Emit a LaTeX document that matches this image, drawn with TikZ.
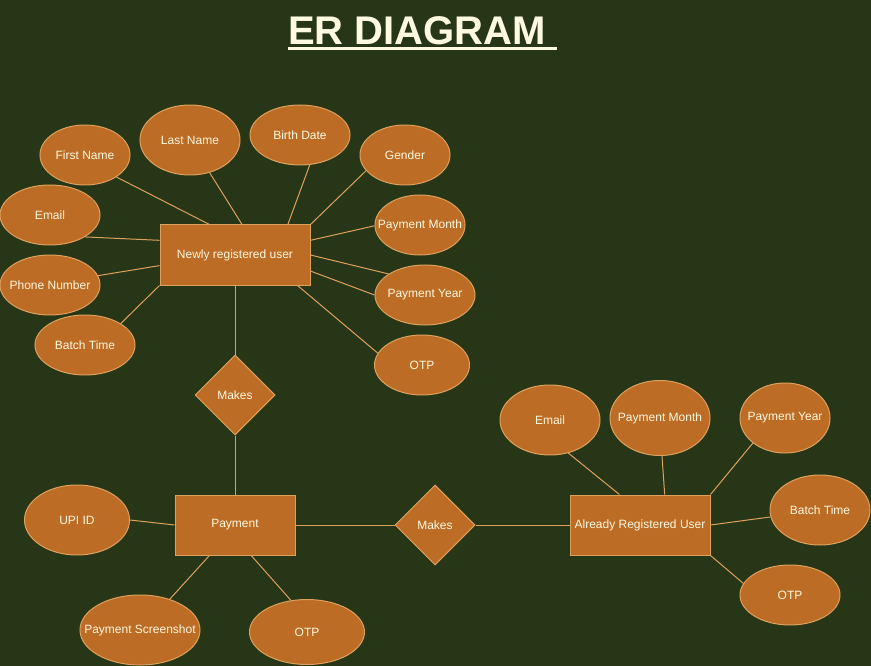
\documentclass[tikz,border=0pt]{standalone}
\usepackage{fontspec}
\setmainfont{Liberation Sans}
\usetikzlibrary{shapes.geometric}
\definecolor{bgolive}{HTML}{283618}
\definecolor{attrfill}{HTML}{BC6C25}
\definecolor{attrline}{HTML}{DDA15E}
\definecolor{attrtext}{HTML}{FEFAE0}
\newcommand{\lbl}[1]{\makebox[0pt]{#1}}

\begin{document}
\begin{tikzpicture}[x=1pt,y=-1pt,
  base/.style={draw=attrline,fill=attrfill,text=attrtext,line width=1pt,inner sep=0pt,font=\fontsize{12}{14}\selectfont},
  attr/.style 2 args={base,ellipse,minimum width=#1pt,minimum height=#2pt},
  entity/.style 2 args={base,rectangle,minimum width=#1pt,minimum height=#2pt},
  rel/.style={base,diamond,aspect=1,minimum width=80pt,minimum height=80pt},
  link/.style={draw=attrline,line width=1pt}]
\useasboundingbox[fill=bgolive] (0,0) rectangle (871,666);
\node[anchor=base west,inner sep=0pt,text=attrtext,font=\fontsize{40}{44}\selectfont\bfseries] (title) at (288,45) {ER DIAGRAM\kern0.278em};
\draw[attrtext,line width=3pt] ([yshift=-4pt]title.base west) -- ([yshift=-4pt]title.base east);
\node[entity={150}{60}] (nru) at (235,255) {Newly registered user};
\node[attr={90}{60}] (fname) at (85,155) {\lbl{First Name}};
\node[attr={100}{70}] (lname) at (190,140) {\lbl{Last Name}};
\node[attr={100}{60}] (bdate) at (300,135) {\lbl{Birth Date}};
\node[attr={90}{60}] (gender) at (405,155) {\lbl{Gender}};
\node[attr={100}{60}] (email) at (50,215) {\lbl{Email}};
\node[attr={90}{60}] (pmonth) at (420,225) {\lbl{Payment Month}};
\node[attr={100}{60}] (phone) at (50,285) {\lbl{Phone Number}};
\node[attr={100}{60}] (pyear) at (425,295) {\lbl{Payment Year}};
\node[attr={100}{60}] (batch) at (85,345) {\lbl{Batch Time}};
\node[attr={95}{60}] (otp) at (422,365) {\lbl{OTP}};
\node[rel] (makesa) at (235,395) {Makes};
\node[entity={120}{60}] (pay) at (235,525) {Payment};
\node[attr={105}{70}] (upi) at (77,520) {\lbl{UPI ID}};
\node[attr={120}{70}] (shot) at (140,630) {\lbl{Payment Screenshot}};
\node[attr={115}{65}] (payotp) at (307,632) {\lbl{OTP}};
\node[rel] (makesb) at (435,525) {Makes};
\node[entity={140}{60}] (aru) at (640,525) {\lbl{Already Registered User}};
\node[attr={100}{70}] (emailb) at (550,420) {\lbl{Email}};
\node[attr={100}{75}] (pmonthb) at (660,418) {\lbl{Payment Month}};
\node[attr={90}{70}] (pyearb) at (785,418) {\lbl{Payment Year}};
\node[attr={100}{70}] (batchb) at (820,510) {\lbl{Batch Time}};
\node[attr={100}{60}] (otpb) at (790,595) {\lbl{OTP}};
\draw[link] (fname.-35) -- (nru.130);
\draw[link] (lname.-59) -- (nru.77);
\draw[link] (bdate.-72) -- (nru.30);
\draw[link] (gender.202) -- (nru.north east);
\draw[link] (email.-32) -- (nru.169);
\draw[link] (pmonth.181) -- (nru.11);
\draw[link] (phone.11) -- (nru.188);
\draw[link] (pyear.150) -- (nru.east);
\draw[link] (pyear.west) -- (nru.-12);
\draw[link] (batch.31) -- (nru.south west);
\draw[link] (otp.165) -- (nru.-26);
\draw[link] (nru.south) -- (makesa.north);
\draw[link] (makesa.south) -- (pay.north);
\draw[link] (upi.east) -- (pay.west);
\draw[link] (shot.46) -- (pay.-130);
\draw[link] (payotp.117) -- (pay.-62);
\draw[link] (pay.east) -- (makesb.west);
\draw[link] (makesb.east) -- (aru.west);
\draw[link] (emailb.-61) -- (aru.124);
\draw[link] (pmonthb.-87) -- (aru.51);
\draw[link] (pyearb.218) -- (aru.north east);
\draw[link] (batchb.188) -- (aru.east);
\draw[link] (otpb.166) -- (aru.south east);
\end{tikzpicture}
\end{document}
